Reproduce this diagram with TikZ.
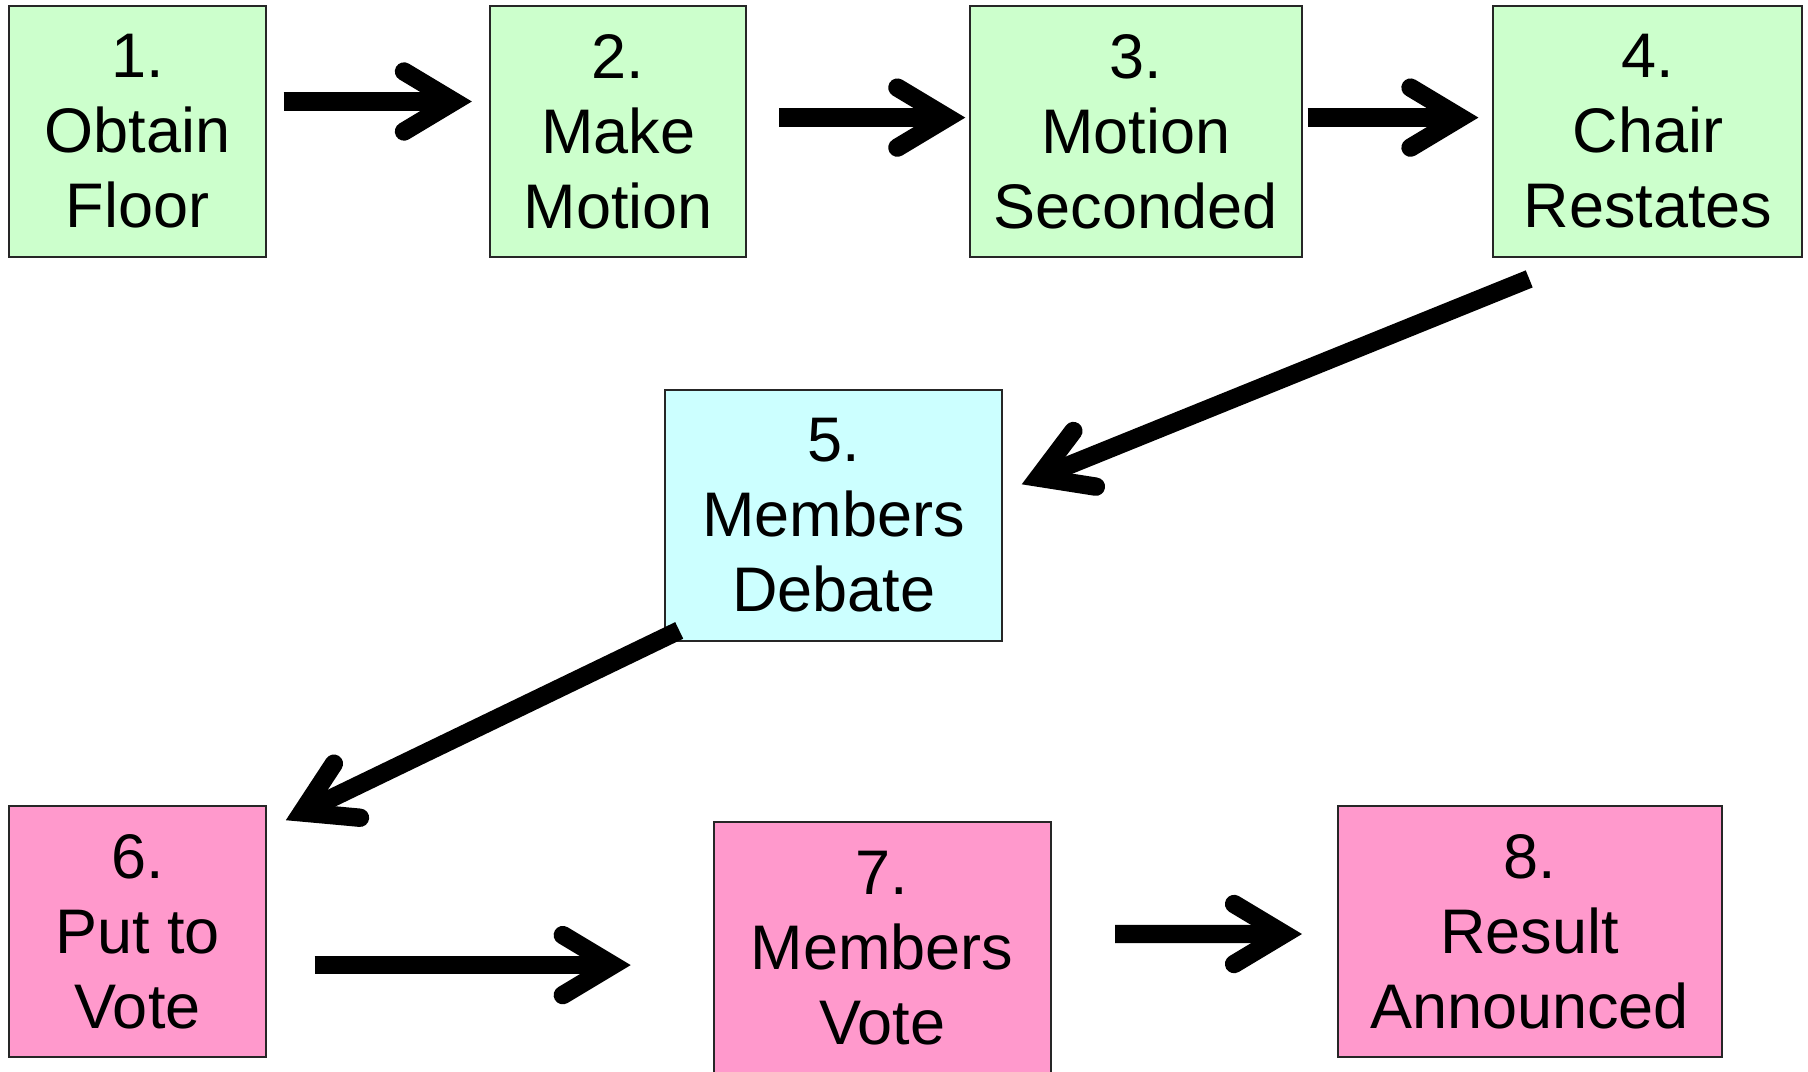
\documentclass[tikz,border=0pt]{standalone}
\usepackage{fontspec}
\setmainfont{Liberation Sans}
\usetikzlibrary{arrows.meta}
\definecolor{stepgreen}{RGB}{204,255,204}
\definecolor{stepcyan}{RGB}{204,255,255}
\definecolor{steppink}{RGB}{255,153,204}

\begin{document}
\begin{tikzpicture}[
  x=0.5pt, y=-0.5pt,
  box/.style={draw=black!85,line width=1pt,align=center,inner sep=0pt,minimum height=125.5pt,
    font=\fontsize{31.5pt}{37.5pt}\selectfont},
  arr/.style={line width=9.2pt,-{Straight Barb[length=25pt,width=30pt,line cap=round,line join=miter]}}
]
\useasboundingbox (0,0) rectangle (1808,1071);
\clip (0,0) rectangle (1808,1071);

\node[box,fill=stepgreen,minimum width=128.5pt] (n1) at (137.5,131.5) {1.\\Obtain\\Floor};
\node[box,fill=stepgreen,minimum width=128pt] (n2) at (618.1,131.5) {2.\\Make\\Motion};
\node[box,fill=stepgreen,minimum width=166pt] (n3) at (1135.8,131.5) {3.\\Motion\\Seconded};
\node[box,fill=stepgreen,minimum width=154.5pt] (n4) at (1647.8,131.5) {4.\\Chair\\Restates};
\node[box,fill=stepcyan,minimum width=168.5pt] (n5) at (833.7,515.4) {5.\\Members\\Debate};
\node[box,fill=steppink,minimum width=128.5pt] (n6) at (137.5,931.7) {6.\\Put to\\Vote};
\node[box,fill=steppink,minimum width=168.5pt] (n7) at (882.1,947.7) {7.\\Members\\Vote};
\node[box,fill=steppink,minimum width=192pt] (n8) at (1529.6,931.7) {8.\\Result\\Announced};

\draw[arr] ([shift={(16.5,-30)}]n1.east) -- ([shift={(-17.2,-30)}]n2.west);
\draw[arr] ([shift={(32.2,-13.9)}]n2.east) -- ([shift={(-3.5,-13.9)}]n3.west);
\draw[arr] ([shift={(4.7,-13.9)}]n3.east) -- ([shift={(-13.9,-13.9)}]n4.west);
\draw[arr] ([shift={(36.9,20.9)}]n4.south west) -- ([shift={(18.5,-31.1)}]n5.east);
\draw[arr] ([shift={(15,-11.5)}]n5.south west) -- ([shift={(18.8,15)}]n6.north east);
\draw[arr] ([shift={(47.6,33.4)}]n6.east) -- ([shift={(-81.9,17.4)}]n7.west);
\draw[arr] ([shift={(63.4,-13.7)}]n7.east) -- ([shift={(-34.6,2.3)}]n8.west);

\end{tikzpicture}
\end{document}
